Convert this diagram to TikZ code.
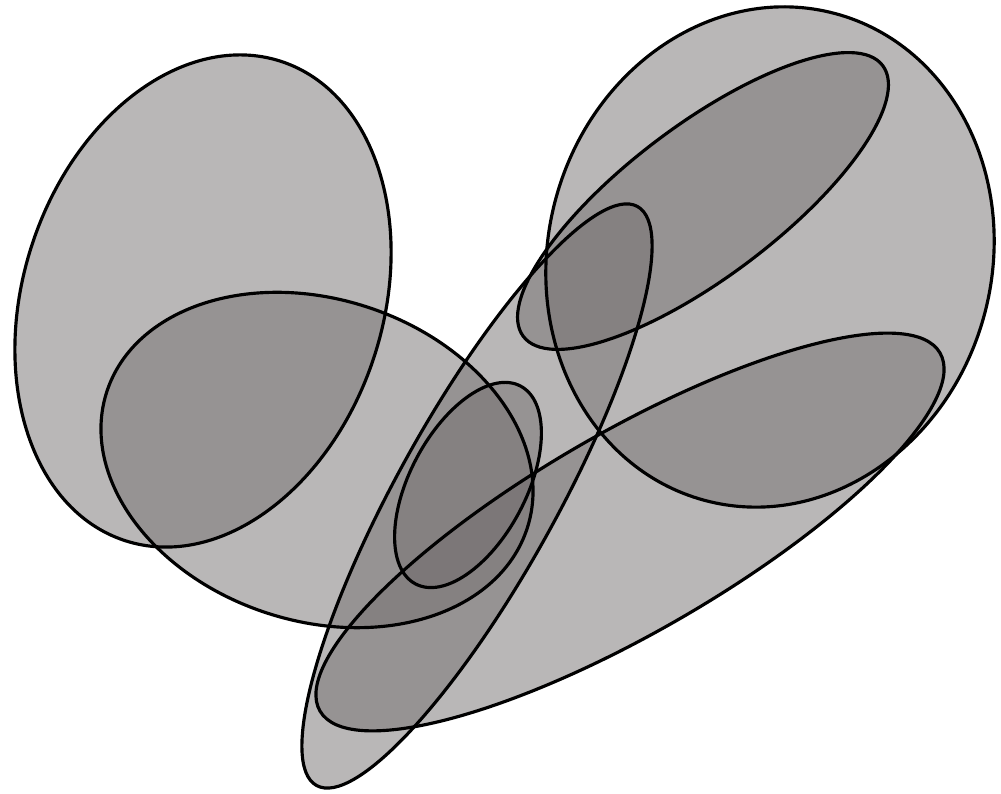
\documentclass[tikz,border=0pt]{standalone}
\usepackage{xcolor}
\usepackage{tikz}
\definecolor{blobgray}{RGB}{116,111,112}
\tikzset{
  blob/.style={fill=blobgray, fill opacity=0.5},
  rim/.style={draw=black, line width=0.9pt}
}

\begin{document}
\begin{tikzpicture}
\useasboundingbox (0,0) rectangle (10.01,7.94);
%--- fills first, so every outline stays black ---
\foreach \cx/\cy/\ra/\rb/\ang in {2.03/4.93/2.52/1.80/72, 3.17/3.34/2.21/1.61/-18,
    7.70/5.37/2.52/2.22/75, 7.03/5.93/2.25/0.76/37, 6.30/2.62/3.58/1.00/30,
    4.77/2.98/3.31/0.80/61, 4.68/3.09/1.12/0.58/62}
  { \fill[blob, rotate around={\ang:(\cx,\cy)}] (\cx,\cy) ellipse ({\ra} and {\rb}); }
%--- outlines ---
\foreach \cx/\cy/\ra/\rb/\ang in {2.03/4.93/2.52/1.80/72, 3.17/3.34/2.21/1.61/-18,
    7.70/5.37/2.52/2.22/75, 7.03/5.93/2.25/0.76/37, 6.30/2.62/3.58/1.00/30,
    4.77/2.98/3.31/0.80/61, 4.68/3.09/1.12/0.58/62}
  { \draw[rim, rotate around={\ang:(\cx,\cy)}] (\cx,\cy) ellipse ({\ra} and {\rb}); }
\end{tikzpicture}
\end{document}
